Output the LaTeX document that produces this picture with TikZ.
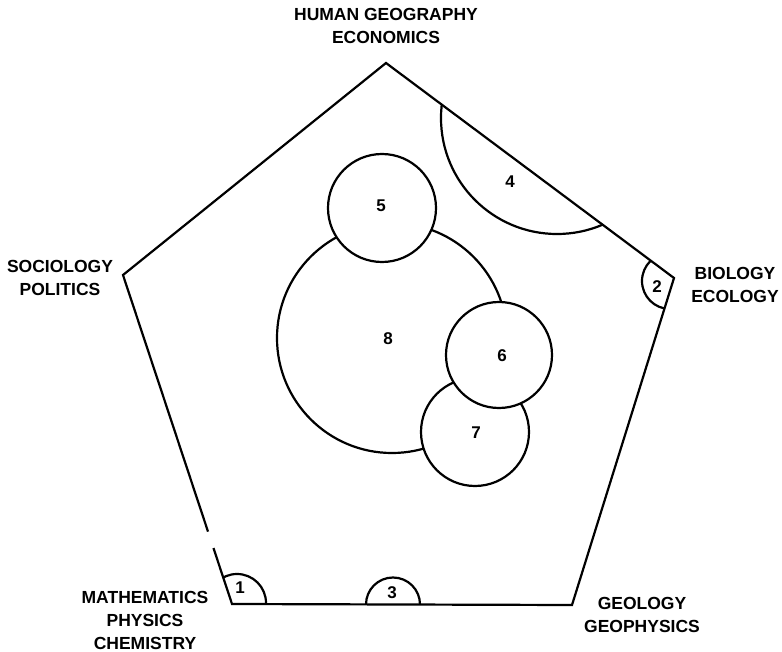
\documentclass[tikz,border=0pt]{standalone}
\usepackage{fontspec}
\setmainfont{Liberation Sans}
\usetikzlibrary{calc}

\begin{document}
\begin{tikzpicture}[x=1pt,y=-1pt,line width=2.2pt,
    field/.style={font=\bfseries\fontsize{17.5}{23}\selectfont,align=center},
    num/.style={font=\bfseries\fontsize{17}{18}\selectfont},
    blob/.style={draw,fill=white}]
  \useasboundingbox (0,0) rectangle (782,652);
  % corners of the pentagon
  \coordinate (T) at (386,63);
  \coordinate (R) at (674,278);
  \coordinate (BR) at (572,605);
  \coordinate (BL) at (232,604);
  \coordinate (L) at (123,275);
  % regions sitting on the edges
  \begin{scope}
    \clip (T) -- (R) -- (BR) -- (BL) -- (L) -- cycle;
    \draw (237,603) circle (29);
    \draw (670,281) circle (28);
    \draw (393,604.5) circle (27);
    \draw (557,118) circle (116);
  \end{scope}
  \draw ($(BL)!0.22!(L)$) -- (L) -- (T) -- (R) -- (BR) -- (BL) -- ($(BL)!0.17!(L)$);
  % inner regions
  \draw[blob] (392,338) circle (115);
  \draw[blob] (475,432) circle (54);
  \draw[blob] (499,355) circle (53);
  \draw[blob] (382,208) circle (54);
  % numbers
  \node[num] (n1) at (240,588) {1};
  \node[num] (n2) at (657,287) {2};
  \node[num] (n3) at (392,593) {3};
  \node[num] (n4) at (510,182) {4};
  \node[num] (n5) at (381,206) {5};
  \node[num] (n6) at (502,356) {6};
  \node[num] (n7) at (476,433) {7};
  \node[num] (n8) at (388,339) {8};
  % fields at the corners
  \node[field] (human) at (386,26) {HUMAN GEOGRAPHY\\ECONOMICS};
  \node[field] (socio) at (60,278) {SOCIOLOGY\\POLITICS};
  \node[field] (bio) at (735,285) {BIOLOGY\\ECOLOGY};
  \node[field] (geo) at (642,615) {GEOLOGY\\GEOPHYSICS};
  \node[field] (math) at (145,620) {MATHEMATICS\\PHYSICS\\CHEMISTRY};
\end{tikzpicture}
\end{document}
